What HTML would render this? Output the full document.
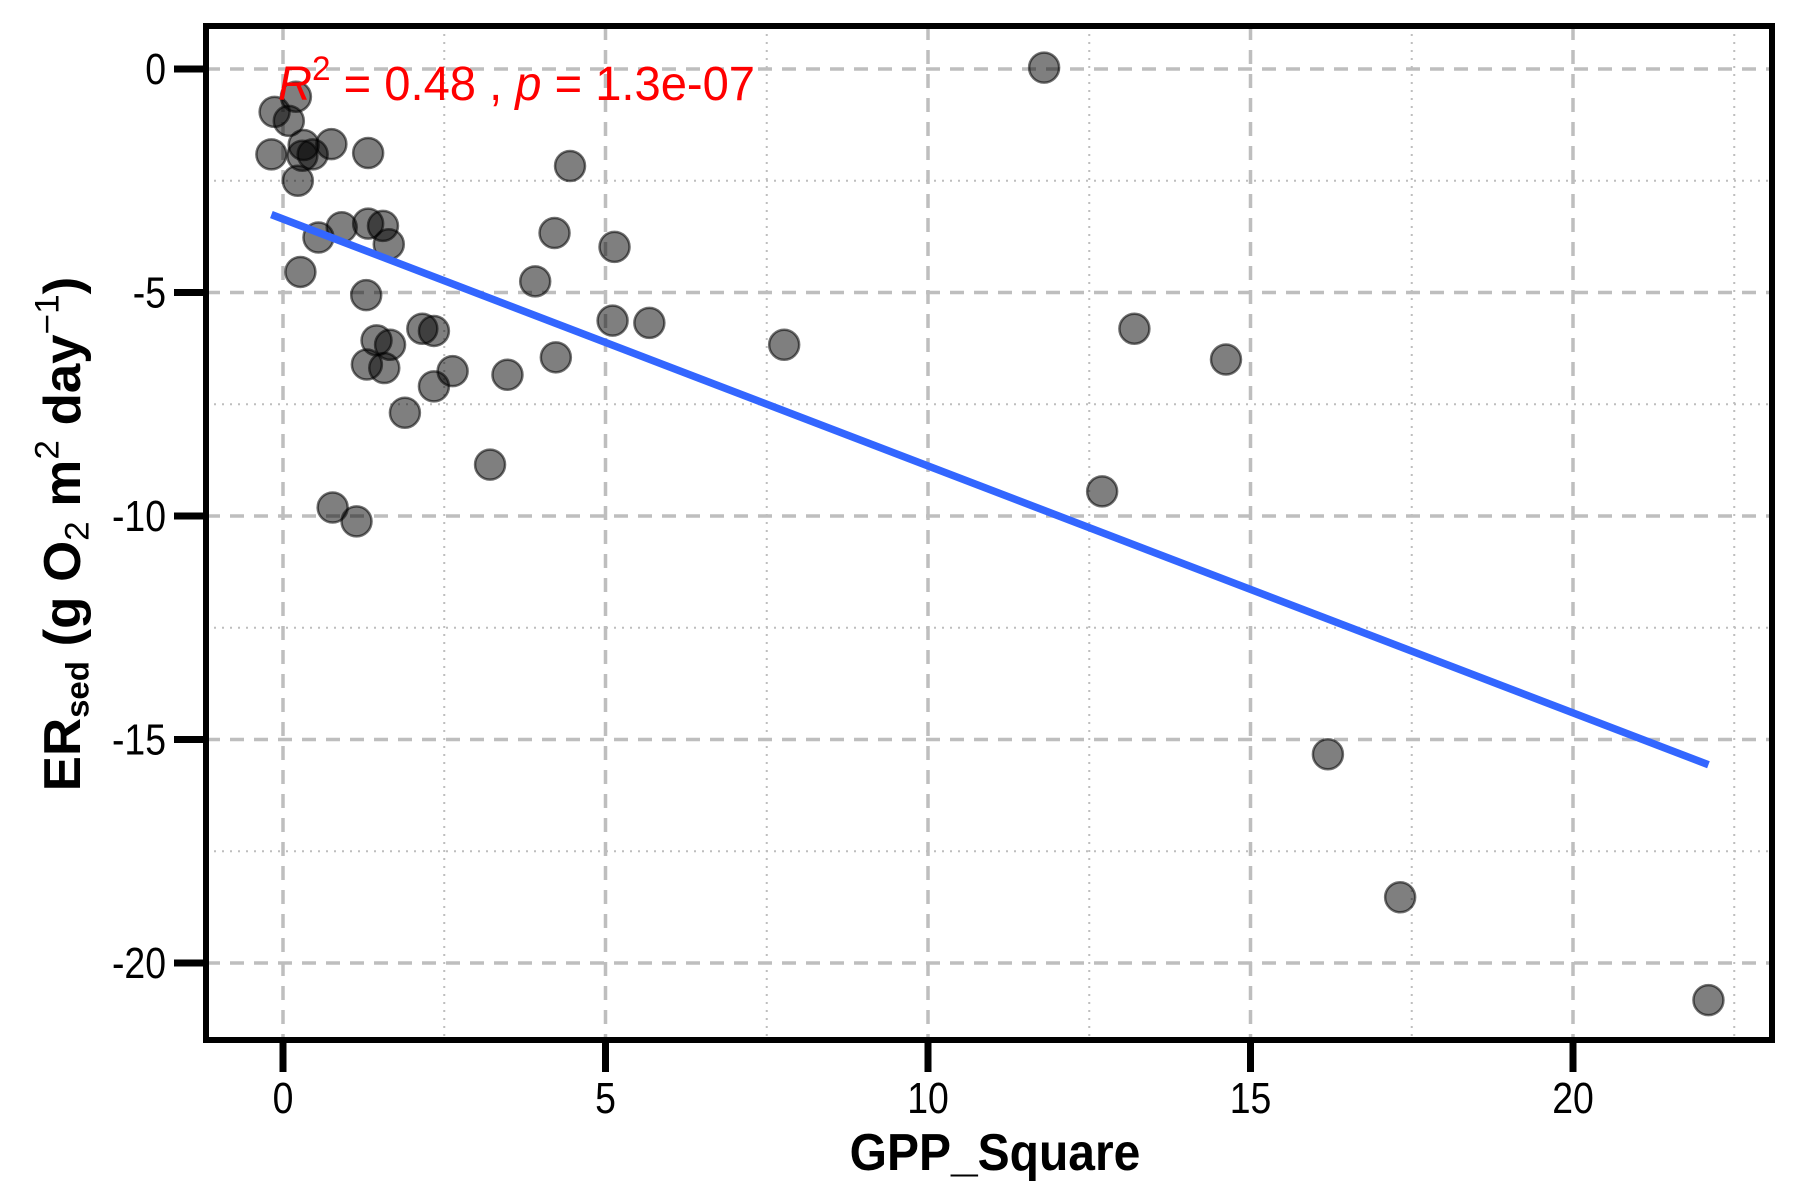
<!DOCTYPE html>
<html><head><meta charset="utf-8"><style>
html,body{margin:0;padding:0;background:#fff;}
svg{display:block;font-family:"Liberation Sans",Arial,sans-serif;}
</style></head><body>
<svg id="chart" width="1800" height="1200" viewBox="0 0 1800 1200"></svg>
<script>
const xValues = [-0.13,0.2,0.09,-0.18,0.32,0.30,0.46,0.75,0.23,1.32,4.45,11.8,0.55,0.91,1.32,1.55,1.64,0.27,4.21,5.14,3.91,1.29,5.11,5.68,2.16,2.34,1.45,1.66,1.30,1.57,2.63,2.34,3.48,4.23,1.89,3.21,7.77,0.77,1.14,13.2,14.62,12.70,16.2,17.32,22.1];
const yValues = [-0.96,-0.62,-1.16,-1.91,-1.70,-1.94,-1.91,-1.68,-2.50,-1.88,-2.17,0.03,-3.77,-3.54,-3.46,-3.51,-3.92,-4.54,-3.67,-3.98,-4.75,-5.06,-5.63,-5.68,-5.81,-5.86,-6.07,-6.17,-6.61,-6.69,-6.76,-7.10,-6.84,-6.45,-7.69,-8.85,-6.17,-9.81,-10.12,-5.81,-6.5,-9.45,-15.33,-18.53,-20.83];
const xTicks = [0,5,10,15,20];
const yTicks = [0,-5,-10,-15,-20];
const xMinor = [2.5,7.5,12.5,17.5,22.5];
const yMinor = [-2.5,-7.5,-12.5,-17.5];
const annotation = {r2:"0.48", p:"1.3e-07"};

const NS="http://www.w3.org/2000/svg";
const svg=document.getElementById('chart');
const L=206,R=1772,T=26,B=1040;
function sx(v){return 283+v*64.5;}
function sy(v){return 69-v*44.7;}
function mk(tag,attrs,parent){const e=document.createElementNS(NS,tag);for(const k in attrs)e.setAttribute(k,attrs[k]);(parent||svg).appendChild(e);return e;}

const grid=mk('g',{});


xMinor.forEach(v=>{const l=mk('line',{x1:sx(v),x2:sx(v),y1:T,y2:B,stroke:'#bebebe','stroke-width':2,'stroke-dasharray':'2 6'},grid);

});
yMinor.forEach(v=>{const l=mk('line',{x1:L,x2:R,y1:sy(v),y2:sy(v),stroke:'#bebebe','stroke-width':2,'stroke-dasharray':'2 6'},grid);

});
xTicks.forEach(v=>{const l=mk('line',{x1:sx(v),x2:sx(v),y1:T,y2:B,stroke:'#bebebe','stroke-width':3.5,'stroke-dasharray':'14 10'},grid);

});
yTicks.forEach(v=>{const l=mk('line',{x1:L,x2:R,y1:sy(v),y2:sy(v),stroke:'#bebebe','stroke-width':3.5,'stroke-dasharray':'14 10'},grid);

});

const pts=mk('g',{});


xValues.forEach((x,i)=>{const c=mk('circle',{cx:sx(x),cy:sy(yValues[i]),r:15,fill:'rgba(0,0,0,0.5)',stroke:'rgba(0,0,0,0.55)','stroke-width':2.5},pts);

});

const n=xValues.length;let mx=0,my=0;xValues.forEach((x,i)=>{mx+=x;my+=yValues[i];});mx/=n;my/=n;
let sxy=0,sxx=0;xValues.forEach((x,i)=>{sxy+=(x-mx)*(yValues[i]-my);sxx+=(x-mx)*(x-mx);});
const slope=sxy/sxx,inter=my-slope*mx;
const xmin=Math.min(...xValues),xmax=Math.max(...xValues);
const rl=mk('line',{x1:sx(xmin),y1:sy(inter+slope*xmin),x2:sx(xmax),y2:sy(inter+slope*xmax),stroke:'#3366ff','stroke-width':7.5});



const border=mk('rect',{x:L,y:T,width:R-L,height:B-T,fill:'none',stroke:'#000','stroke-width':6});



xTicks.forEach(v=>{const t=mk('line',{x1:sx(v),x2:sx(v),y1:B,y2:B+32,stroke:'#000','stroke-width':7});


const tx=mk('text',{transform:'translate('+sx(v)+',1113) scale(0.85,1)','text-anchor':'middle','font-size':44,fill:'#000'});tx.textContent=v;

});
yTicks.forEach(v=>{const t=mk('line',{x1:L-32,x2:L,y1:sy(v),y2:sy(v),stroke:'#000','stroke-width':7});


const tx=mk('text',{transform:'translate(166,'+(sy(v)+15)+') scale(0.85,1)','text-anchor':'end','font-size':44,fill:'#000'});tx.textContent=v;

});

const a=mk('text',{x:278,y:100,'font-size':48,fill:'#ff0000',textLength:477,lengthAdjust:'spacingAndGlyphs'});
a.innerHTML='<tspan font-style="italic">R</tspan><tspan dy="-20" font-size="34">2</tspan><tspan dy="20"> = '+annotation.r2+' , </tspan><tspan font-style="italic">p</tspan><tspan> = '+annotation.p+'</tspan>';



const xt=mk('text',{transform:'translate(995,1170) scale(1.0,1.08)','text-anchor':'middle','font-size':48,'font-weight':'bold'});
xt.textContent='GPP_Square';



const yt=mk('text',{transform:'translate(80,534) rotate(-90) scale(1.1,1.08)','text-anchor':'middle','font-size':48,'font-weight':'bold'});
yt.innerHTML='ER<tspan font-size="30" dy="8">sed</tspan><tspan dy="-8"> (g O</tspan><tspan font-size="32" font-weight="normal" dy="8">2</tspan><tspan dy="-8"> m</tspan><tspan font-size="32" font-weight="normal" dy="-20">2</tspan><tspan dy="20"> day</tspan><tspan font-size="32" font-weight="normal" dy="-20">−1</tspan><tspan dy="20">)</tspan>';


</script>
</body></html>
